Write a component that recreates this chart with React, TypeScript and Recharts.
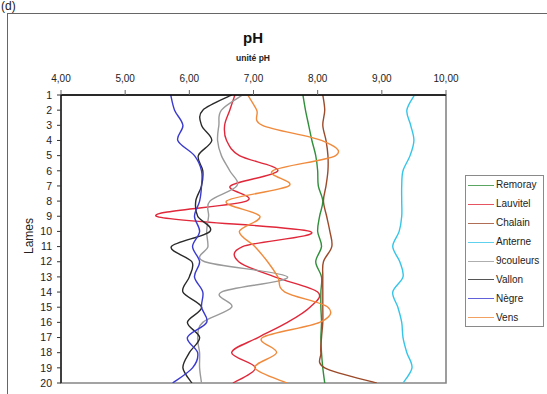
import React from 'react';
import { LineChart, Line, XAxis, YAxis, Legend, ReferenceArea } from 'recharts';

// Lame numbers (depth index, top to bottom)
const lames = [1, 2, 3, 4, 5, 6, 7, 8, 9, 10, 11, 12, 13, 14, 15, 16, 17, 18, 19, 20];

// pH axis ticks
const phTicks = [4, 5, 6, 7, 8, 9, 10];

// pH per lame for each lake
const remoray = [7.77, 7.81, 7.86, 7.91, 7.97, 8.0, 8.01, 8.08, 8.03, 8.0, 8.06, 7.97, 8.06, 8.05, 8.05, 8.06, 8.05, 8.06, 8.08, 8.11];
const lauvitel = [6.71, 6.63, 6.55, 6.58, 6.78, 7.38, 6.64, 6.89, 5.49, 7.88, 6.83, 6.77, 7.33, 8.0, 7.88, 7.53, 7.07, 6.66, 7.03, 6.68];
const chalain = [8.08, 8.11, 8.08, 8.13, 8.16, 8.16, 8.13, 8.09, 8.14, 8.19, 8.22, 8.09, 8.08, 8.08, 8.08, 8.08, 8.06, 8.05, 8.11, 8.92];
const anterne = [9.51, 9.39, 9.45, 9.5, 9.44, 9.33, 9.31, 9.31, 9.31, 9.27, 9.17, 9.28, 9.33, 9.17, 9.25, 9.31, 9.33, 9.39, 9.47, 9.33];
const neufCouleurs = [6.83, 6.5, 6.46, 6.44, 6.5, 6.63, 6.74, 6.32, 6.3, 6.27, 6.29, 6.24, 7.53, 6.5, 6.66, 6.21, 6.13, 6.16, 6.16, 6.19];
const vallon = [6.66, 6.21, 6.19, 6.35, 6.14, 6.21, 6.19, 6.1, 6.13, 6.32, 5.72, 6.04, 6.0, 5.9, 6.19, 5.97, 6.16, 6.0, 5.9, 6.04];
const negre = [5.71, 5.77, 5.9, 5.82, 6.08, 6.19, 6.19, 6.16, 6.08, 6.16, 6.05, 6.16, 6.08, 6.21, 6.19, 6.27, 5.97, 6.13, 6.05, 5.74];
const vens = [6.91, 7.05, 7.14, 8.06, 8.28, 7.3, 7.55, 6.58, 7.1, 6.78, 7.02, 7.22, 7.38, 7.49, 8.16, 8.03, 7.14, 7.36, 7.02, 7.52];

const series = [
  { name: 'Remoray', values: remoray, color: '#2f8f3a' },
  { name: 'Lauvitel', values: lauvitel, color: '#e0283a' },
  { name: 'Chalain', values: chalain, color: '#9b4a2a' },
  { name: 'Anterne', values: anterne, color: '#35c5e8' },
  { name: '9couleurs', values: neufCouleurs, color: '#9a9a9a' },
  { name: 'Vallon', values: vallon, color: '#2a2a2a' },
  { name: 'Nègre', values: negre, color: '#3a3ad0' },
  { name: 'Vens', values: vens, color: '#f08a3c' },
];

const data = lames.map((lame, i) => {
  const row: Record<string, number> = { lame };
  series.forEach((s) => {
    row[s.name] = s.values[i];
  });
  return row;
});

const FONT = 'Arial, "Liberation Sans", sans-serif';

// Smoothed polyline: cubic Bezier through every point, tangents from neighbours (spreadsheet-style smoothing)
const smoothCurve = (context: any) => {
  let pts: number[][] = [];
  return {
    areaStart() {},
    areaEnd() {},
    lineStart() {
      pts = [];
    },
    point(x: number, y: number) {
      pts.push([+x, +y]);
    },
    lineEnd() {
      const n = pts.length;
      if (!n) return;
      context.moveTo(pts[0][0], pts[0][1]);
      for (let i = 0; i < n - 1; i++) {
        const p0 = pts[Math.max(i - 1, 0)];
        const p1 = pts[i];
        const p2 = pts[i + 1];
        const p3 = pts[Math.min(i + 2, n - 1)];
        context.bezierCurveTo(
          p1[0] + (p2[0] - p0[0]) / 6,
          p1[1] + (p2[1] - p0[1]) / 6,
          p2[0] - (p3[0] - p1[0]) / 6,
          p2[1] - (p3[1] - p1[1]) / 6,
          p2[0],
          p2[1]
        );
      }
    },
  };
};

// Legend box listing the lakes in series order
const renderLegend = () => (
  <div
    style={{
      width: 79,
      height: 152,
      boxSizing: 'border-box',
      border: '1px solid #8a8a8a',
      background: '#fff',
    }}
  >
    {series.map((s) => (
      <div key={s.name} style={{ display: 'flex', alignItems: 'center', height: 18.9 }}>
        <span
          style={{
            display: 'inline-block',
            marginLeft: 2,
            width: 26,
            height: 0,
            borderTop: `1px solid ${s.color}`,
            opacity: 0.8,
          }}
        />
        <span style={{ marginLeft: 2, fontFamily: FONT, fontSize: 10, color: '#222', lineHeight: '10px' }}>
          {s.name}
        </span>
      </div>
    ))}
  </div>
);

const fmt = (v: number) => v.toFixed(2).replace('.', ',');

export default function App() {
  return (
    <div style={{ position: 'absolute', left: 0, top: 0, width: 547, height: 394, overflow: 'hidden', background: '#fff' }}>
      <div
        style={{
          position: 'absolute',
          left: 1,
          top: 0,
          fontFamily: FONT,
          fontSize: 12,
          color: '#222',
          lineHeight: '12px',
        }}
      >
        (d)
      </div>
      <div
        style={{
          position: 'absolute',
          left: 7,
          top: 13,
          width: 600,
          height: 420,
          borderLeft: '1px solid #666',
          borderTop: '1px solid #666',
        }}
      />
      <div
        style={{
          position: 'absolute',
          left: 153,
          width: 200,
          top: 29,
          textAlign: 'center',
          fontFamily: FONT,
          fontWeight: 'bold',
          fontSize: 15,
          lineHeight: '17px',
          color: '#111',
        }}
      >
        pH
      </div>
      <div
        style={{
          position: 'absolute',
          left: 153,
          width: 200,
          top: 53,
          textAlign: 'center',
          fontFamily: FONT,
          fontWeight: 'bold',
          fontSize: 8.5,
          lineHeight: '10px',
          color: '#222',
        }}
      >
        unité pH
      </div>
      <div
        style={{
          position: 'absolute',
          left: 29,
          top: 236,
          transform: 'translate(-50%, -50%) rotate(-90deg)',
          fontFamily: FONT,
          fontSize: 12,
          color: '#222',
          whiteSpace: 'nowrap',
        }}
      >
        Lames
      </div>
      <div style={{ position: 'absolute', left: 0, top: 0 }}>
        <LineChart
          width={547}
          height={394}
          data={data}
          layout="vertical"
          margin={{ top: 65, right: 101, bottom: 11, left: 21 }}
        >
          <ReferenceArea x1={4} x2={10} y1={1} y2={20} fill="none" stroke="#858585" strokeWidth={1.6} ifOverflow="visible" />
          <XAxis
            type="number"
            orientation="top"
            domain={[4, 10]}
            ticks={phTicks}
            tickFormatter={fmt}
            height={30}
            tickSize={5}
            tickMargin={8}
            axisLine={{ stroke: '#000', strokeWidth: 1.3 }}
            tickLine={{ stroke: '#666' }}
            tick={{ fontSize: 10, fill: '#222', fontFamily: FONT }}
            allowDataOverflow
          />
          <YAxis
            type="number"
            dataKey="lame"
            domain={[1, 20]}
            ticks={lames}
            interval={0}
            width={40}
            tickSize={4}
            tickMargin={5}
            axisLine={{ stroke: '#000', strokeWidth: 1.2 }}
            tickLine={{ stroke: '#333' }}
            tick={{ fontSize: 10.5, fill: '#222', fontFamily: FONT }}
            allowDataOverflow
          />
          {series.map((s) => (
            <Line
              key={s.name}
              dataKey={s.name}
              name={s.name}
              stroke={s.color}
              strokeWidth={1.4}
              type={smoothCurve as any}
              dot={false}
              activeDot={false}
              isAnimationActive={false}
            />
          ))}
          <Legend
            layout="vertical"
            align="center"
            verticalAlign="middle"
            content={renderLegend}
            wrapperStyle={{ position: 'absolute', left: 465, top: 175, width: 79, height: 152 }}
          />
        </LineChart>
      </div>
    </div>
  );
}
